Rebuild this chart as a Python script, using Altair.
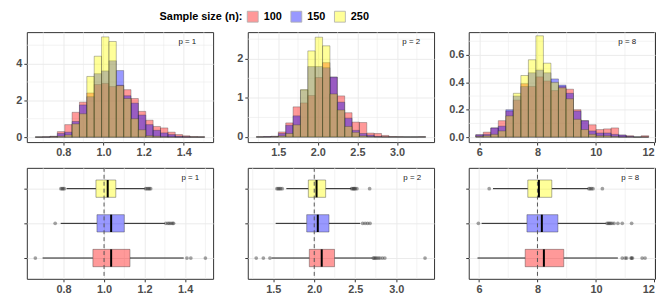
import altair as alt
import pandas as pd

FONT = "Liberation Sans"

# ---------------- categories / colours ----------------
SIZES = ["100", "150", "250"]
FILL_COLORS = ["#FF0000", "#0000FF", "#FFFF00"]
P_TRUE = [1, 2, 8]
P_LABELS = ["p = 1", "p = 2", "p = 8"]

# ---------------- histogram bins ----------------
BIN_START = [0.660, 1.223, 5.880]
BIN_WIDTH = [0.0367, 0.0930, 0.2580]

# densities, 23 bins per panel
DENS_P1_N100 = [0.01, 0.02, 0.05, 0.30, 0.68, 1.35, 1.90, 2.40, 2.86, 2.92, 2.75, 2.82,
                2.58, 2.10, 1.40, 0.92, 0.58, 0.50, 0.27, 0.14, 0.07, 0.03, 0.02]
DENS_P1_N150 = [0.00, 0.01, 0.03, 0.20, 0.27, 0.85, 1.75, 2.20, 3.45, 3.60, 4.15, 3.62,
                2.25, 1.85, 1.20, 0.68, 0.37, 0.23, 0.14, 0.05, 0.02, 0.00, 0.00]
DENS_P1_N250 = [0.00, 0.00, 0.02, 0.05, 0.12, 0.72, 1.27, 3.30, 4.40, 5.45, 5.20, 2.80,
                2.10, 1.00, 0.40, 0.08, 0.05, 0.02, 0.01, 0.00, 0.00, 0.00, 0.00]

DENS_P2_N100 = [0.005, 0.01, 0.02, 0.13, 0.36, 0.77, 0.87, 1.06, 1.52, 1.90, 1.53, 1.05,
                0.62, 0.38, 0.37, 0.10, 0.09, 0.04, 0.01, 0.005, 0.0, 0.0, 0.005]
DENS_P2_N150 = [0.0, 0.005, 0.01, 0.09, 0.30, 0.54, 1.20, 1.80, 1.80, 1.77, 1.53, 0.89,
                0.48, 0.17, 0.09, 0.05, 0.01, 0.0, 0.0, 0.0, 0.0, 0.0, 0.0]
DENS_P2_N250 = [0.0, 0.0, 0.005, 0.03, 0.09, 0.31, 1.21, 2.20, 2.55, 2.33, 1.10, 0.69,
                0.27, 0.12, 0.03, 0.01, 0.0, 0.0, 0.0, 0.0, 0.0, 0.0, 0.0]

DENS_P8_N100 = [0.017, 0.036, 0.067, 0.12, 0.19, 0.27, 0.39, 0.37, 0.44, 0.41, 0.34, 0.37,
                0.35, 0.20, 0.12, 0.09, 0.055, 0.06, 0.067, 0.015, 0.01, 0.0, 0.01]
DENS_P8_N150 = [0.017, 0.02, 0.067, 0.08, 0.20, 0.30, 0.37, 0.47, 0.49, 0.47, 0.425, 0.38,
                0.32, 0.19, 0.12, 0.045, 0.03, 0.03, 0.02, 0.015, 0.005, 0.0, 0.0]
DENS_P8_N250 = [0.005, 0.01, 0.02, 0.045, 0.155, 0.32, 0.45, 0.565, 0.74, 0.54, 0.40, 0.36,
                0.28, 0.13, 0.055, 0.02, 0.01, 0.01, 0.005, 0.0, 0.0, 0.0, 0.0]

DENS = [[DENS_P1_N100, DENS_P1_N150, DENS_P1_N250],
        [DENS_P2_N100, DENS_P2_N150, DENS_P2_N250],
        [DENS_P8_N100, DENS_P8_N150, DENS_P8_N250]]

# ---------------- boxplot statistics (order: n=100, 150, 250) ----------------
BOX_LO = [[0.697, 0.786, 0.815], [1.48, 1.53, 1.66], [5.95, 6.09, 6.48]]
BOX_Q1 = [[0.945, 0.965, 0.960], [1.94, 1.908, 1.928], [7.58, 7.64, 7.67]]
BOX_MED = [[1.035, 1.035, 1.018], [2.091, 2.043, 2.028], [8.22, 8.15, 8.05]]
BOX_Q3 = [[1.128, 1.100, 1.058], [2.247, 2.18, 2.139], [8.90, 8.70, 8.49]]
BOX_HI = [[1.393, 1.300, 1.201], [2.71, 2.56, 2.45], [10.75, 10.34, 9.73]]

OUT_P1_N100 = [0.661, 1.409, 1.428, 1.500]
OUT_P1_N150 = [0.759, 1.305, 1.315, 1.322, 1.330, 1.338, 1.343]
OUT_P1_N250 = [0.787, 0.793, 0.798, 0.804, 1.205, 1.212, 1.218, 1.224, 1.230]
OUT_P2_N100 = [1.293, 1.38, 1.46, 2.72, 2.73, 2.745, 2.76, 2.78, 2.80, 2.83, 2.86, 3.35]
OUT_P2_N150 = [2.59, 2.62, 2.65, 2.68]
OUT_P2_N250 = [1.545, 1.56, 1.575, 1.59, 1.61, 2.455, 2.47, 2.48, 2.49, 2.50, 2.52, 2.675]
OUT_P8_N100 = [10.90, 11.00, 11.05, 11.20, 11.22, 11.25, 11.58, 11.68]
OUT_P8_N150 = [5.98, 10.38, 10.42, 10.46, 10.50, 10.55, 10.62, 10.75, 10.90, 11.22]
OUT_P8_N250 = [6.35, 9.76, 9.80, 9.85, 9.90, 10.22]
OUTLIERS = [[OUT_P1_N100, OUT_P1_N150, OUT_P1_N250],
            [OUT_P2_N100, OUT_P2_N150, OUT_P2_N250],
            [OUT_P8_N100, OUT_P8_N150, OUT_P8_N250]]

# ---------------- axes ----------------
X_TICKS = [[0.8, 1.0, 1.2, 1.4], [1.5, 2.0, 2.5, 3.0], [6, 8, 10, 12]]
X_MINOR = [[0.7, 0.9, 1.1, 1.3, 1.5], [1.25, 1.75, 2.25, 2.75, 3.25], [7, 9, 11]]
X_FORMAT = [".1f", ".1f", "d"]
X_DOMAIN_TOP = [[0.618, 1.546], [1.116, 3.467], [5.64, 12.03]]
X_DOMAIN_BOT = [[0.619, 1.538], [1.19, 3.46], [5.65, 12.02]]
Y_DOMAIN_TOP = [[-0.27, 5.71], [-0.13, 2.68], [-0.0365, 0.767]]
Y_TICKS = [[0, 2, 4], [0, 1, 2], [0.0, 0.2, 0.4, 0.6]]
Y_MINOR = [[1, 3, 5], [0.5, 1.5, 2.5], [0.1, 0.3, 0.5, 0.7]]
Y_FORMAT = ["d", "d", ".1f"]
LABEL_X_TOP = [162, 165, 160]
LABEL_X_BOT = [165, 166, 163]

W = 188
H_TOP = 111
H_BOT = 112
GRID = "#EBEBEB"

color_scale = alt.Scale(domain=SIZES, range=FILL_COLORS)
legend = alt.Legend(
    title="Sample size (n):", orient="none", legendX=134, legendY=-22,
    direction="horizontal", titleOrient="left", symbolType="square",
    symbolSize=121, symbolOpacity=0.4, symbolStrokeColor="#333333",
    symbolStrokeWidth=0.8, labelFont=FONT, labelFontSize=11,
    labelFontWeight="bold", labelColor="#000000", titleFont=FONT,
    titleFontSize=11, titleFontWeight="bold", titleColor="#000000",
    columnPadding=6, labelOffset=5, titlePadding=4, padding=0,
)


def minor_rules(values, domain, channel, scale, axis):
    vals = [v for v in values if domain[0] < v < domain[1]]
    df = pd.DataFrame({"v": vals})
    if channel == "x":
        enc = dict(x=alt.X("v:Q", scale=scale, axis=axis))
    else:
        enc = dict(y=alt.Y("v:Q", scale=scale, axis=axis))
    return alt.Chart(df).mark_rule(color=GRID, strokeWidth=0.6).encode(**enc)


def hist_panel(i):
    rows = []
    for j, s in enumerate(SIZES):
        for k, d in enumerate(DENS[i][j]):
            rows.append({"n": s, "x0": BIN_START[i] + k * BIN_WIDTH[i],
                         "x1": BIN_START[i] + (k + 1) * BIN_WIDTH[i],
                         "density": d, "base": 0.0})
    df = pd.DataFrame(rows)
    xs = alt.Scale(domain=X_DOMAIN_TOP[i], nice=False, zero=False)
    ys = alt.Scale(domain=Y_DOMAIN_TOP[i], nice=False, zero=False)
    xaxis = alt.Axis(values=X_TICKS[i], format=X_FORMAT[i], title=None)
    yaxis = alt.Axis(values=Y_TICKS[i], format=Y_FORMAT[i], title=None)

    mx = minor_rules(X_MINOR[i], X_DOMAIN_TOP[i], "x", xs, xaxis)
    my = minor_rules(Y_MINOR[i], Y_DOMAIN_TOP[i], "y", ys, yaxis)
    bars = alt.Chart(df).mark_bar(
        fillOpacity=0.4, stroke="#333333", strokeOpacity=0.55, strokeWidth=0.6
    ).encode(
        x=alt.X("x0:Q", scale=xs, axis=xaxis), x2="x1:Q",
        y=alt.Y("density:Q", scale=ys, axis=yaxis), y2="base:Q",
        color=alt.Color("n:N", scale=color_scale, legend=legend),
    )
    txt = alt.Chart(pd.DataFrame({"label": [P_LABELS[i]]})).mark_text(
        font=FONT, fontSize=8, color="#1A1A1A"
    ).encode(x=alt.value(LABEL_X_TOP[i]), y=alt.value(10), text="label:N")
    return alt.layer(mx, my, bars, txt).properties(width=W, height=H_TOP)


def box_panel(i):
    bdf = pd.DataFrame({
        "n": SIZES, "pos": [1, 2, 3],
        "lo": BOX_LO[i], "q1": BOX_Q1[i], "med": BOX_MED[i],
        "q3": BOX_Q3[i], "hi": BOX_HI[i],
    })
    orows = []
    for j, s in enumerate(SIZES):
        for v in OUTLIERS[i][j]:
            orows.append({"n": s, "pos": j + 1, "v": v})
    odf = pd.DataFrame(orows)
    xs = alt.Scale(domain=X_DOMAIN_BOT[i], nice=False, zero=False)
    ys = alt.Scale(domain=[0.4, 3.6], nice=False, zero=False)
    xaxis = alt.Axis(values=X_TICKS[i], format=X_FORMAT[i], title=None)
    yaxis = alt.Axis(values=[1, 2, 3], labels=False, title=None)

    mx = minor_rules(X_MINOR[i], X_DOMAIN_BOT[i], "x", xs, xaxis)
    base = alt.Chart(bdf).transform_calculate(
        ylo="datum.pos - 0.25", yhi="datum.pos + 0.25")
    wlo = base.mark_rule(color="#1A1A1A", strokeWidth=1).encode(
        x=alt.X("lo:Q", scale=xs, axis=xaxis), x2="q1:Q",
        y=alt.Y("pos:Q", scale=ys, axis=yaxis))
    whi = base.mark_rule(color="#1A1A1A", strokeWidth=1).encode(
        x=alt.X("q3:Q", scale=xs, axis=xaxis), x2="hi:Q",
        y=alt.Y("pos:Q", scale=ys, axis=yaxis))
    box = base.mark_rect(fillOpacity=0.4, stroke="#333333", strokeOpacity=0.4,
                         strokeWidth=1).encode(
        x=alt.X("q1:Q", scale=xs, axis=xaxis), x2="q3:Q",
        y=alt.Y("ylo:Q", scale=ys, axis=yaxis), y2="yhi:Q",
        color=alt.Color("n:N", scale=color_scale, legend=legend))
    med = base.mark_rule(color="#000000", strokeWidth=2).encode(
        x=alt.X("med:Q", scale=xs, axis=xaxis),
        y=alt.Y("ylo:Q", scale=ys, axis=yaxis), y2="yhi:Q")
    pts = alt.Chart(odf).mark_circle(color="#333333", opacity=0.45, size=14).encode(
        x=alt.X("v:Q", scale=xs, axis=xaxis),
        y=alt.Y("pos:Q", scale=ys, axis=yaxis))
    dash = alt.Chart(pd.DataFrame({"p": [P_TRUE[i]]})).mark_rule(
        color="#555555", strokeDash=[4, 3], strokeWidth=1).encode(
        x=alt.X("p:Q", scale=xs, axis=xaxis))
    txt = alt.Chart(pd.DataFrame({"label": [P_LABELS[i]]})).mark_text(
        font=FONT, fontSize=8, color="#1A1A1A"
    ).encode(x=alt.value(LABEL_X_BOT[i]), y=alt.value(10), text="label:N")
    return alt.layer(mx, wlo, whi, box, med, pts, dash, txt).properties(
        width=W, height=H_BOT)


panels = [hist_panel(i) for i in range(3)] + [box_panel(i) for i in range(3)]

chart = alt.concat(
    *panels, columns=3, spacing={"row": 26, "column": 35}, bounds="flush"
).properties(
    padding={"left": 7, "top": 1, "right": 0, "bottom": 0}
).resolve_scale(
    x="independent", y="independent"
).configure_view(
    stroke="#333333", strokeWidth=1
).configure_axis(
    gridColor=GRID, gridWidth=1, tickColor="#333333", tickSize=3, tickWidth=1,
    domain=False, labelFont=FONT, labelFontSize=11, labelFontWeight="bold",
    labelColor="#4D4D4D", labelPadding=2,
).configure_scale(
    continuousPadding=0
)

chart.save("out.html", embed_options={"renderer": "svg", "actions": False})
